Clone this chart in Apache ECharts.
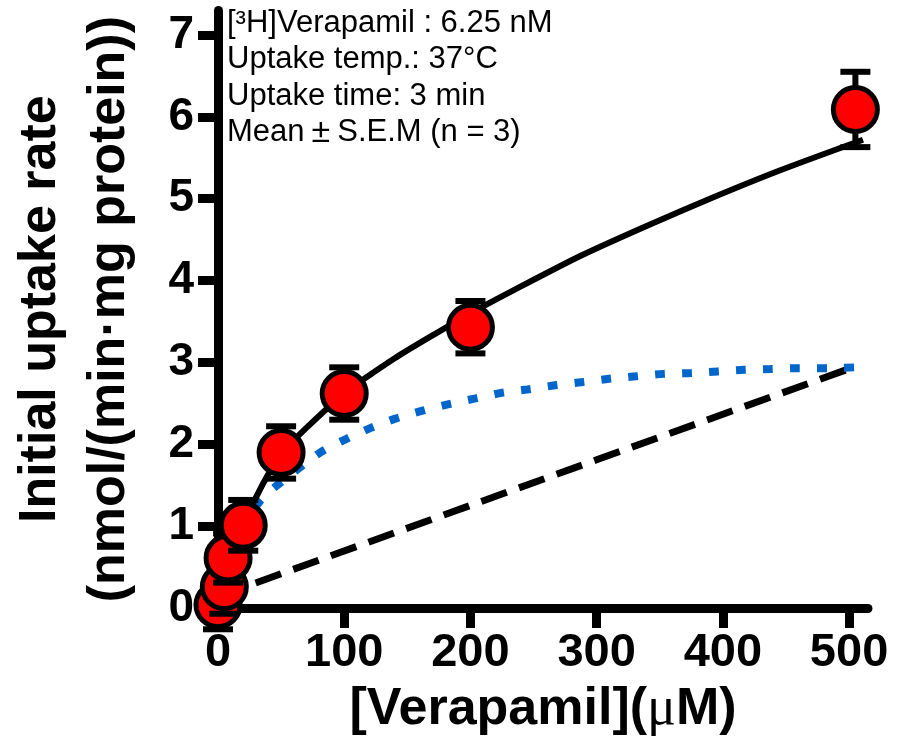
<!DOCTYPE html>
<html><head><meta charset="utf-8">
<script src="https://cdn.jsdelivr.net/npm/echarts@6/dist/echarts.min.js"></script>
<style>html,body{margin:0;padding:0;background:#fff}#c{width:906px;height:739px}</style>
</head><body><div id="c"></div>
<script>
// Measured data: concentration (µM), mean uptake, S.E.M.
const concentration = [0, 5, 8, 20, 50, 100, 200, 505];
const uptakeMean = [0.04, 0.26, 0.61, 1.01, 1.90, 2.62, 3.43, 6.09];
const uptakeSEM = [0.30, 0.33, 0.30, 0.31, 0.32, 0.32, 0.32, 0.46];

// Total fitted curve (solid)
const totalFitX = [0, 10, 20, 35, 50, 70, 100, 140, 170, 200, 234, 287, 340, 393, 446, 511];
const totalFitY = [0.08, 0.6, 1.02, 1.5, 1.88, 2.2, 2.62, 3.05, 3.33, 3.6, 3.88, 4.3, 4.67, 5.02, 5.35, 5.72];

// Saturable component (blue dotted)
const satFitX = [0, 10, 20, 33, 47, 81, 101, 121, 140, 162, 183, 204, 225, 245, 267, 289, 310, 331, 353, 375, 396, 417, 438, 460, 483, 505];
const satFitY = [0, 0.6, 1.0, 1.3, 1.5, 1.9, 2.06, 2.2, 2.31, 2.41, 2.49, 2.56, 2.63, 2.67, 2.72, 2.76, 2.8, 2.83, 2.86, 2.87, 2.89, 2.91, 2.92, 2.93, 2.93, 2.94];

// Non-saturable component (black dashed)
const linFitX = [0, 300, 505];
const linFitY = [0.14, 1.81, 2.95];

const xTicks = [0, 100, 200, 300, 400, 500];
const yTicks = [0, 1, 2, 3, 4, 5, 6, 7];
const xTitle = '[Verapamil]({mu|μ}M)';
const yTitle = 'Initial uptake rate\n(nmol/(min·mg protein))';
const noteLines = ['[³H]Verapamil : 6.25 nM', 'Uptake temp.: 37°C', 'Uptake time: 3 min'];
const noteLast = ['Mean', '±', 'S.E.M (n = 3)'];

const zip = (xs, ys) => xs.map((x, i) => [x, ys[i]]);
const FONT = '"Liberation Sans", Arial, sans-serif';

const chart = echarts.init(document.getElementById('c'), null, {renderer: 'canvas'});
chart.setOption({
  animation: false,
  backgroundColor: '#fff',
  grid: {left: 218, right: 38, top: 10.4, bottom: 131, containLabel: false, outerBoundsMode: 'none'},
  xAxis: {
    type: 'value', min: 0, max: 515,
    axisLine: {lineStyle: {color: '#000', width: 9}},
    axisTick: {customValues: xTicks, length: 20, lineStyle: {color: '#000', width: 9}},
    axisLabel: {customValues: xTicks, margin: 22, color: '#000', fontSize: 47, fontWeight: 'bold', fontFamily: FONT},
    splitLine: {show: false},
    name: xTitle, nameLocation: 'middle', nameGap: 75,
    nameTextStyle: {color: '#000', fontSize: 52, fontWeight: 'bold', fontFamily: FONT,
      rich: {mu: {fontSize: 54, fontWeight: 'normal', fontFamily: '"Liberation Serif", "DejaVu Serif", serif', color: '#000'}}}
  },
  yAxis: {
    type: 'value', min: 0, max: 7.3,
    axisLine: {lineStyle: {color: '#000', width: 9}},
    axisTick: {customValues: yTicks, length: 20, lineStyle: {color: '#000', width: 9}},
    axisLabel: {customValues: yTicks, margin: 24, color: '#000', fontSize: 46, fontWeight: 'bold', fontFamily: FONT},
    splitLine: {show: false},
    name: yTitle, nameLocation: 'middle', nameRotate: 90, nameGap: 74,
    nameTextStyle: {color: '#000', fontSize: 52, fontWeight: 'bold', fontFamily: FONT, lineHeight: 69, align: 'center'}
  },
  series: [
    {type: 'line', data: zip(linFitX, linFitY), showSymbol: false, z: 2,
     lineStyle: {color: '#000', width: 7, type: [27, 13], cap: 'butt'}},
    {type: 'line', data: zip(satFitX, satFitY), showSymbol: false, smooth: 0.25, z: 3,
     lineStyle: {color: '#0066CC', width: 8, type: [10, 17], cap: 'butt'}},
    {type: 'line', data: zip(totalFitX, totalFitY), showSymbol: false, smooth: 0.25, z: 4,
     lineStyle: {color: '#000', width: 6}},
    {type: 'custom', z: 10, clip: false,
     data: concentration.map((x, i) => [x, uptakeMean[i], uptakeSEM[i]]),
     encode: {x: 0, y: 1},
     renderItem: (params, api) => {
       const x = api.value(0), m = api.value(1), e = api.value(2);
       const c = api.coord([x, m]);
       const t = api.coord([x, m + e]);
       const b = api.coord([x, m - e]);
       const ls = {stroke: '#000', lineWidth: 6};
       return {type: 'group', children: [
         {type: 'line', shape: {x1: c[0], y1: t[1], x2: c[0], y2: b[1]}, style: ls},
         {type: 'line', shape: {x1: c[0] - 15, y1: t[1], x2: c[0] + 15, y2: t[1]}, style: ls},
         {type: 'line', shape: {x1: c[0] - 15, y1: b[1], x2: c[0] + 15, y2: b[1]}, style: ls},
         {type: 'circle', shape: {cx: c[0], cy: c[1], r: 22}, style: {fill: '#FF0000', stroke: '#000', lineWidth: 5}}
       ]};
     }}
  ],
  graphic: [{
    type: 'text', left: 227, top: 5, z: 20,
    style: {
      text: noteLines.join('\n') + '\n' + noteLast[0] + '{pm|' + noteLast[1] + '}' + noteLast[2],
      fontSize: 31, fontFamily: FONT, fill: '#000', lineHeight: 36.4,
      rich: {pm: {fontSize: 34, fontFamily: FONT, padding: [0, 7, 0, 7], lineHeight: 36.4}}
    }
  }]
});
</script></body></html>
